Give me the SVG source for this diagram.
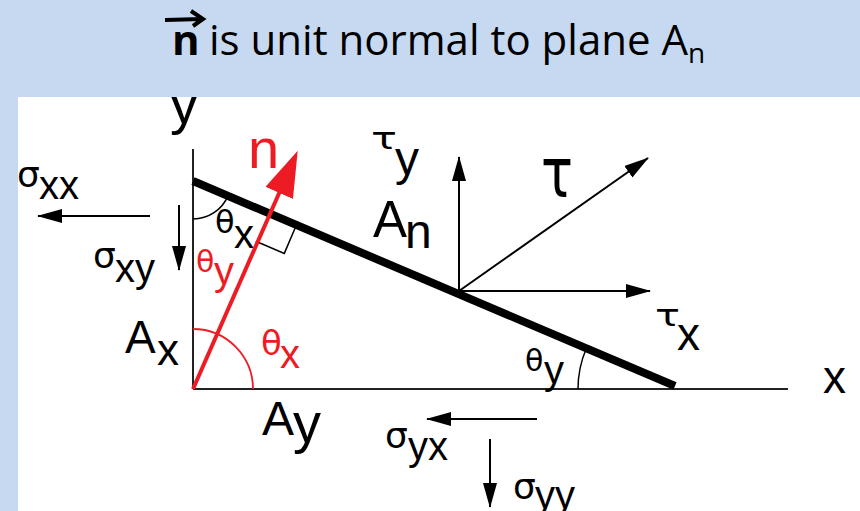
<svg xmlns="http://www.w3.org/2000/svg" width="860" height="511" viewBox="0 0 860 511">
<style>
.t{font-family:"Liberation Sans",Arial,sans-serif;fill:#000}
.g{font-family:"DejaVu Sans","Liberation Sans",sans-serif}
.r{fill:#ed1c24}
.title{font-family:"Open Sans","Noto Sans",sans-serif;fill:#000}
.ax{stroke:#222;stroke-width:2;fill:none}
.ar{stroke:#000;stroke-width:2;fill:none;marker-end:url(#ah)}
.thin{stroke:#000;stroke-width:1.5;fill:none}
</style>
<defs>
<marker id="ah" markerUnits="userSpaceOnUse" markerWidth="26" markerHeight="16" refX="24" refY="7" orient="auto" viewBox="0 0 26 16">
<path d="M0,0 L25,7 L0,14 z" fill="#000"/>
</marker>
<marker id="rh" markerUnits="userSpaceOnUse" markerWidth="48" markerHeight="32" refX="1" refY="15" orient="auto" viewBox="0 0 48 32">
<path d="M0,0 L46,15 L0,30 z" fill="#ed1c24"/>
</marker>
</defs>
<rect x="0" y="0" width="860" height="511" fill="#fff"/>
<g id="y-axis-label">
<text class="t" x="170" y="123" font-size="56">y</text>
</g>
<g id="background">
<rect x="0" y="0" width="860" height="97" fill="#c6d9f0"/>
<rect x="0" y="97" width="18" height="414" fill="#c6d9f0"/>
</g>
<g id="title">
<path d="M165,20 L202,19 M191,11 L203,19 L193,26" stroke="#000" stroke-width="4" fill="none"/>
<text class="title" font-size="42"><tspan x="172" y="55" font-weight="bold">n</tspan><tspan x="209" y="55">is unit normal to plane A</tspan><tspan x="688" y="63" font-size="28">n</tspan></text>
</g>
<g id="axes">
<line class="ax" x1="193" y1="149" x2="193" y2="389"/>
<line class="ax" x1="193" y1="389" x2="788" y2="389"/>
<text class="t" x="823" y="393" font-size="46">x</text>
</g>
<g id="plane">
<line x1="193" y1="181" x2="675" y2="386" stroke="#000" stroke-width="8"/>
<path class="thin" d="M255.8,241.3 L284.3,253.4 L296.4,225"/>
<path class="thin" d="M193,219 A38,38 0 0 0 228,195.9"/>
<path class="thin" d="M578,389 A103,103 0 0 1 586.2,348.7"/>
<text class="t" x="373" y="237" font-size="51">A<tspan x="405" y="248" font-size="48">n</tspan></text>
<text class="t"><tspan class="g" x="215" y="233" font-size="32">θ</tspan><tspan x="234" y="248" font-size="40">x</tspan></text>
<text class="t"><tspan class="g" x="525" y="371" font-size="30">θ</tspan><tspan x="544" y="384" font-size="40">y</tspan></text>
</g>
<g id="normal">
<line x1="193" y1="389" x2="279.6" y2="192" stroke="#ed1c24" stroke-width="4" marker-end="url(#rh)"/>
<path d="M193,329 A60,60 0 0 1 253,389" stroke="#ed1c24" stroke-width="1.8" fill="none"/>
<text class="t r" x="248" y="168" font-size="56">n</text>
<text class="t r"><tspan class="g" x="196" y="272" font-size="30">θ</tspan><tspan x="214" y="285" font-size="40">y</tspan></text>
<text class="t r"><tspan class="g" x="261" y="355" font-size="34">θ</tspan><tspan x="280" y="368" font-size="40">x</tspan></text>
</g>
<g id="faces">
<text class="t" x="125" y="353" font-size="46">A<tspan x="157" y="365" font-size="44">x</tspan></text>
<text class="t" x="262" y="435" font-size="48">A<tspan x="293" y="442" font-size="56">y</tspan></text>
</g>
<g id="connectors">
<line class="ar" x1="150" y1="216" x2="38" y2="216"/>
<line class="ar" x1="179" y1="205" x2="179" y2="270"/>
<line class="ar" x1="459" y1="291" x2="459" y2="157"/>
<line class="ar" x1="459" y1="291" x2="650" y2="291"/>
<line class="ar" x1="459" y1="291" x2="648" y2="158"/>
<line class="ar" x1="537" y1="419" x2="427" y2="419"/>
<line class="ar" x1="490" y1="439" x2="490" y2="507"/>
</g>
<g id="stress-labels">
<text class="t"><tspan class="g" x="17" y="187" font-size="36">σ</tspan><tspan x="39" y="199" font-size="40">xx</tspan></text>
<text class="t"><tspan class="g" x="93" y="268" font-size="36">σ</tspan><tspan x="115" y="282" font-size="40">xy</tspan></text>
<text class="t"><tspan class="g" x="385" y="448" font-size="36">σ</tspan><tspan x="408" y="460" font-size="40">yx</tspan></text>
<text class="t"><tspan class="g" x="513" y="499" font-size="36">σ</tspan><tspan x="535" y="509" font-size="40">yy</tspan></text>
</g>
<g id="shear-labels">
<text class="t g" x="371" y="149" font-size="31" textLength="26" lengthAdjust="spacingAndGlyphs">τ</text>
<text class="t" x="395" y="175" font-size="48">y</text>
<text class="t g" x="541" y="197" font-size="70" textLength="32" lengthAdjust="spacingAndGlyphs">τ</text>
<text class="t g" x="655" y="326" font-size="31" textLength="25" lengthAdjust="spacingAndGlyphs">τ</text>
<text class="t" x="677" y="350" font-size="46">x</text>
</g>
</svg>
